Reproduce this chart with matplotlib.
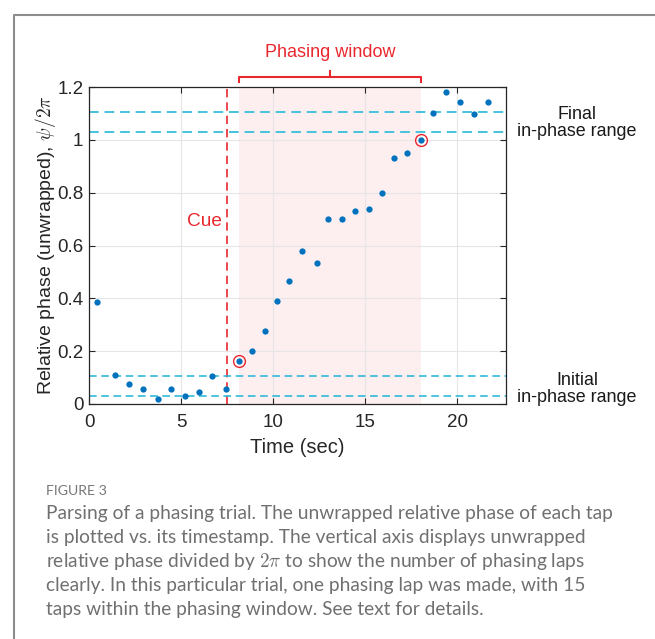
import numpy as np
import matplotlib.pyplot as plt
from matplotlib.lines import Line2D

# tap timestamps (sec) and unwrapped relative phase / 2pi
tap_time = [0.45, 1.43, 2.19, 2.95, 3.73, 4.46, 5.24, 5.96, 6.67, 7.45,
            8.15, 8.84, 9.55, 10.22, 10.89, 11.58, 12.36, 12.97, 13.73, 14.46,
            15.20, 15.90, 16.56, 17.30, 18.03, 18.68, 19.37, 20.15, 20.92, 21.65]
tap_phase = [0.385, 0.109, 0.075, 0.056, 0.018, 0.058, 0.029, 0.044, 0.105, 0.057,
             0.164, 0.200, 0.278, 0.391, 0.467, 0.581, 0.533, 0.702, 0.700, 0.731,
             0.740, 0.800, 0.930, 0.950, 1.000, 1.102, 1.183, 1.145, 1.097, 1.143]

cue_time = 7.5
window_start, window_end = 8.15, 18.03
initial_range = [0.03, 0.105]
final_range = [1.03, 1.105]

caption_lines = [
    "Parsing of a phasing trial. The unwrapped relative phase of each tap",
    "is plotted vs. its timestamp. The vertical axis displays unwrapped",
    "relative phase divided by $2\\pi$ to show the number of phasing laps",
    "clearly. In this particular trial, one phasing lap was made, with 15",
    "taps within the phasing window. See text for details.",
]

RED = '#e8282f'
BLUE = '#0072bd'
CYAN = '#1fb4d6'

plt.rcParams['font.family'] = ['Liberation Sans', 'DejaVu Sans']
plt.rcParams['mathtext.fontset'] = 'cm'

fig = plt.figure(figsize=(6.55, 6.39), dpi=100)
ax = fig.add_axes([0.1359, 0.3678, 0.7725 - 0.1359, 0.8638 - 0.3678])

# phasing window and cue
ax.axvspan(window_start, window_end, color='#fdeef0', zorder=0, lw=0)
ax.axvline(cue_time, color=RED, ls=(0, (5, 3)), lw=1.2, zorder=2)

# in-phase ranges
for yv in initial_range:
    ax.axhline(yv, color=CYAN, ls=(0, (5, 3)), lw=1.1, zorder=2)
for yv in final_range:
    ax.axhline(yv, color='#45c3dc', ls=(0, (5, 3)), lw=1.4, zorder=2)

ax.plot(tap_time, tap_phase, 'o', color=BLUE, ms=4.5, mec='none', zorder=4)

# first and last taps in the window
i0 = tap_time.index(window_start)
i1 = tap_time.index(window_end)
ax.plot([tap_time[i0], tap_time[i1]], [tap_phase[i0], tap_phase[i1]], 'o',
        mfc='none', mec=RED, ms=8.5, mew=1.0, zorder=3)

ax.set_xlim(0, 22.65)
ax.set_ylim(0, 1.2)
ax.set_xticks([0, 5, 10, 15, 20])
ax.set_yticks([0, 0.2, 0.4, 0.6, 0.8, 1.0, 1.2])
ax.set_yticklabels(['0', '0.2', '0.4', '0.6', '0.8', '1', '1.2'])
ax.grid(True, color='#e6e6e6', lw=0.8, zorder=1)
ax.set_axisbelow(True)
ax.tick_params(direction='in', top=True, right=True, labelsize=13.5,
               length=4, width=0.8, colors='#262626', pad=4)
ax.tick_params(axis='x', pad=7)
for s in ax.spines.values():
    s.set_linewidth(0.9)
    s.set_color('#262626')

ax.set_xlabel('Time (sec)', fontsize=14.5, color='#262626', labelpad=5)
ax.set_ylabel('Relative phase (unwrapped), $\\psi/2\\pi$', fontsize=14,
              color='#262626', labelpad=-0.5)

ax.text(7.2, 0.69, 'Cue', color=RED, fontsize=13.7, ha='right', va='center')

# bracket over the phasing window
tr = ax.get_xaxis_transform()
yb = 1.032
yl = 1.016
mid = (window_start + window_end) / 2
ax.add_line(Line2D([window_start, window_start, window_end, window_end],
                   [yl, yb, yb, yl], transform=tr, color=RED, lw=1.5,
                   clip_on=False))
ax.add_line(Line2D([mid, mid], [yb, yb + 0.02], transform=tr, color=RED,
                   lw=1.5, clip_on=False))
ax.text(mid, yb + 0.05, 'Phasing window', transform=tr, color=RED,
        fontsize=13, ha='center', va='bottom')

# range labels at the right
fig.text(577 / 655, 1 - 123 / 639, 'Final\nin-phase range', fontsize=12.9,
         ha='center', va='center', color='#1a1a1a', linespacing=1.0)
fig.text(577 / 655, 1 - 389 / 639, 'Initial\nin-phase range', fontsize=12.9,
         ha='center', va='center', color='#1a1a1a', linespacing=1.0)

# frame around the figure panel
fig.add_artist(Line2D([14 / 655, 14 / 655, 1.0], [0.0, 1 - 15 / 639, 1 - 15 / 639],
                      transform=fig.transFigure, color='#8c8c8c', lw=1.5))

# caption
fig.text(46 / 655, 1 - 491 / 639, 'FIGURE 3', fontsize=10.2, color='#777777',
         family=['Lato', 'DejaVu Sans'], va='center')
for k, line in enumerate(caption_lines):
    fig.text(46 / 655, 1 - (513 + 24 * k) / 639, line, fontsize=13.8,
             color='#707070', family=['Lato', 'DejaVu Sans'], va='center')

fig.savefig('out.png', dpi=100)
